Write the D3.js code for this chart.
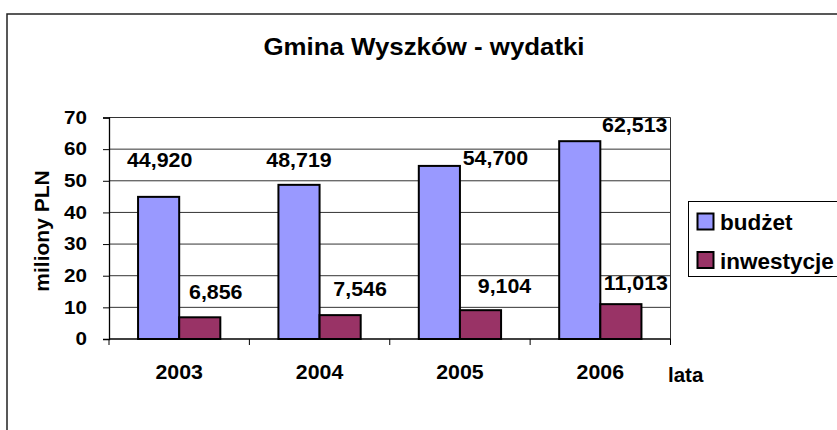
<!DOCTYPE html>
<html>
<head>
<meta charset="utf-8">
<script src="https://cdn.jsdelivr.net/npm/d3@7"></script>
<style>
  html, body { margin: 0; padding: 0; background: #fff; }
  svg { display: block; }
  text { font-family: "Liberation Sans", Arial, sans-serif; font-weight: bold; fill: #000; }
</style>
</head>
<body>
<svg id="chart" width="837" height="430"></svg>
<script>
// ---- data ----
const title = "Gmina Wyszków - wydatki";
const categories = ["2003", "2004", "2005", "2006"];
const seriesNames = ["budżet", "inwestycje"];
const budzet = [44.920, 48.719, 54.700, 62.513];
const inwestycje = [6.856, 7.546, 9.104, 11.013];
const budzetLabels = ["44,920", "48,719", "54,700", "62,513"];
const inwestycjeLabels = ["6,856", "7,546", "9,104", "11,013"];
const yTicks = [0, 10, 20, 30, 40, 50, 60, 70];
const yTitle = "miliony PLN";
const xTitle = "lata";
const colors = ["#9999FF", "#993366"];

// ---- label placement (layout: x offset in px from bar centre, y in value units) ----
const budzetLabelDx = [1, 0, 56, 55];
const budzetLabelY = [56.6, 56.6, 57.2, 67.6];
const inwLabelDx = [16, 20, 24, 15];
const inwLabelY = [14.9, 15.8, 16.8, 17.7];

const svg = d3.select("#chart");
const plot = { left: 109, right: 670.5, top: 117.5, bottom: 339 };

// outer chart frame
svg.append("rect")
  .attr("x", 7).attr("y", 14)
  .attr("width", 900).attr("height", 500)
  .attr("fill", "none").attr("stroke", "#222").attr("stroke-width", 1.5);

function stext(sel, x, y, str, size, sx, anchor) {
  return sel.append("text")
    .attr("transform", `translate(${x},${y}) scale(${sx},1)`)
    .attr("text-anchor", anchor || "middle")
    .style("font-size", size + "px")
    .text(str);
}

// title
stext(svg, 424, 55, title, 23.5, 1.1);

const x = d3.scaleBand().domain(categories).range([plot.left, plot.right]).padding(0);
const xs = d3.scaleBand().domain(seriesNames)
  .range([x.bandwidth() * 0.207, x.bandwidth() * 0.793]).padding(0);
const y = d3.scaleLinear().domain([0, 70]).range([plot.bottom, plot.top]);

// gridlines
svg.append("g").selectAll("line").data(yTicks.filter(d => d > 0)).join("line")
  .attr("x1", plot.left).attr("x2", plot.right)
  .attr("y1", d => y(d)).attr("y2", d => y(d))
  .attr("stroke", "#333").attr("stroke-width", 1);
// right border of plot
svg.append("line").attr("x1", plot.right).attr("x2", plot.right)
  .attr("y1", plot.top).attr("y2", plot.bottom)
  .attr("stroke", "#333").attr("stroke-width", 1);

// y axis
const yAxis = svg.append("g").attr("transform", `translate(${plot.left},0)`)
  .call(d3.axisLeft(y).tickValues(yTicks).tickSize(6).tickFormat(""));
yAxis.select(".domain").attr("stroke", "#000").attr("stroke-width", 1.3);
yAxis.selectAll(".tick line").attr("stroke", "#000").attr("stroke-width", 1);
yTicks.forEach(t => stext(svg, 87, y(t) + 6.2, String(t), 17.5, 1.18, "end"));

// x axis (ticks at category boundaries)
const xAxis = svg.append("g").attr("transform", `translate(0,${plot.bottom})`);
xAxis.append("line").attr("x1", plot.left).attr("x2", plot.right)
  .attr("stroke", "#000").attr("stroke-width", 1.3);
const bounds = categories.map(c => x(c)).concat([x(categories[categories.length - 1]) + x.bandwidth()]);
xAxis.selectAll(".tk").data(bounds).join("line").attr("class", "tk")
  .attr("x1", d => d).attr("x2", d => d).attr("y1", 0).attr("y2", 6)
  .attr("stroke", "#000").attr("stroke-width", 1);
categories.forEach(c => stext(svg, x(c) + x.bandwidth() / 2, 378.5, c, 20.5, 1.04));

// bars
const seriesData = [budzet, inwestycje];
seriesData.forEach((vals, si) => {
  svg.append("g").selectAll("rect").data(vals).join("rect")
    .attr("x", (d, i) => x(categories[i]) + xs(seriesNames[si]))
    .attr("y", d => y(d))
    .attr("width", xs.bandwidth())
    .attr("height", d => y(0) - y(d))
    .attr("fill", colors[si])
    .attr("stroke", "#000").attr("stroke-width", 2);
});

// value labels
budzet.forEach((v, i) => {
  const cx = x(categories[i]) + xs(seriesNames[0]) + xs.bandwidth() / 2 + budzetLabelDx[i];
  stext(svg, cx, y(budzetLabelY[i]) + 7, budzetLabels[i], 20, 1.07);
});
inwestycje.forEach((v, i) => {
  const cx = x(categories[i]) + xs(seriesNames[1]) + xs.bandwidth() / 2 + inwLabelDx[i];
  stext(svg, cx, y(inwLabelY[i]) + 7, inwestycjeLabels[i], 20, 1.07);
});

// axis titles
svg.append("text")
  .attr("transform", "translate(49,231) rotate(-90)")
  .attr("text-anchor", "middle")
  .style("font-size", "21px")
  .text(yTitle);
stext(svg, 668, 381.5, xTitle, 20.5, 1, "start");

// legend
const lg = svg.append("g");
lg.append("rect").attr("x", 688.5).attr("y", 201.5).attr("width", 200).attr("height", 75)
  .attr("fill", "#fff").attr("stroke", "#000").attr("stroke-width", 1);
seriesNames.forEach((s, i) => {
  const yy = 213.5 + i * 38.5;
  lg.append("rect").attr("x", 697.5).attr("y", yy).attr("width", 16).attr("height", 16)
    .attr("fill", colors[i]).attr("stroke", "#000").attr("stroke-width", 2);
  stext(lg, 720, yy + 16.5, s, 22.5, 1, "start");
});
</script>
</body>
</html>
